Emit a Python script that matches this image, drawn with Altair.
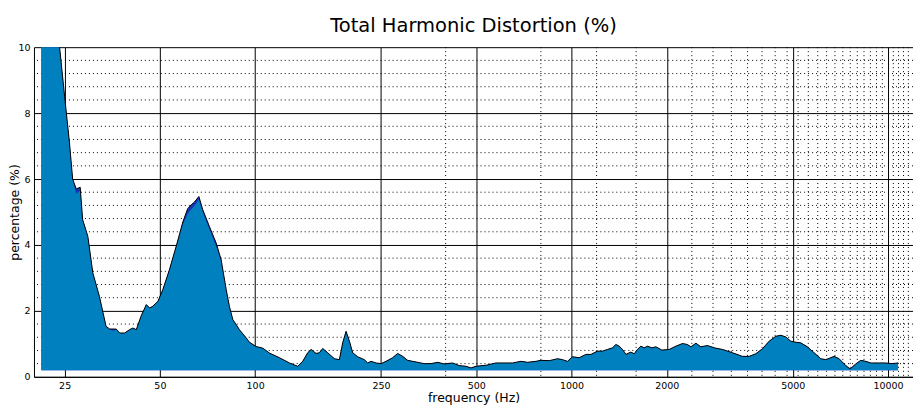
import altair as alt
import pandas as pd

# frequency (Hz) of each sample
freq = [21.1, 22.4, 24.1, 25.0, 25.9, 26.5, 27.2, 28.0, 28.5, 29.6,
        30.7, 32.2, 33.8, 34.7, 35.9, 36.4, 37.3, 38.7, 40.1, 41.1,
        42.1, 43.6, 45.3, 46.4, 47.5, 49.3, 51.1, 53.6, 56.3, 59.1,
        61.2, 62.8, 64.3, 66.4, 68.3, 71.7, 75.3, 78.1, 81.0, 82.9,
        85.0, 89.2, 93.7, 95.9, 100.7, 105.7, 111.0, 119.3, 128.4, 136.3,
        141.4, 146.6, 150.3, 155.8, 159.6, 163.5, 169.6, 178.0, 184.6, 189.1,
        193.8, 198.6, 203.4, 210.9, 221.4, 226.8, 232.5, 241.1, 250.0, 259.3,
        272.0, 282.1, 292.6, 303.4, 322.5, 342.5, 359.6, 377.4, 396.2, 420.8,
        441.8, 464.0, 481.2, 499.0, 536.5, 577.0, 620.6, 651.3, 692.0, 726.0,
        771.7, 800.0, 850.0, 903.0, 937.0, 971.0, 1007, 1057, 1110, 1152,
        1208, 1253, 1299, 1347, 1381, 1415, 1449, 1486, 1540, 1578,
        1616, 1656, 1697, 1738, 1794, 1848, 1930, 2035, 2137, 2242,
        2325, 2384, 2472, 2563, 2689, 2823, 3000, 3225, 3468, 3642,
        3823, 4011, 4211, 4421, 4586, 4757, 4932, 5114, 5303, 5565,
        5843, 6134, 6362, 6758, 7008, 7357, 7591, 7912, 8206, 8510,
        8826, 9374, 9842, 10325, 10762]

# THD (%) of the front (light blue) channel
thd_front = [14.0, 12.0, 10.0, 8.5, 7.1, 6.0, 5.55, 5.65, 4.77, 4.26,
             3.15, 2.44, 1.53, 1.43, 1.40, 1.45, 1.33, 1.33, 1.43, 1.48,
             1.43, 1.84, 2.19, 2.09, 2.14, 2.29, 2.65, 3.25, 3.96, 4.62,
             4.95, 5.08, 5.18, 5.38, 5.00, 4.48, 3.95, 3.50, 2.65, 2.14,
             1.74, 1.43, 1.18, 1.05, 0.92, 0.87, 0.72, 0.58, 0.42, 0.32,
             0.47, 0.73, 0.83, 0.71, 0.73, 0.86, 0.73, 0.55, 0.52, 1.03,
             1.38, 1.08, 0.73, 0.61, 0.52, 0.42, 0.47, 0.42, 0.40, 0.47,
             0.58, 0.71, 0.62, 0.50, 0.45, 0.40, 0.40, 0.44, 0.39, 0.42,
             0.34, 0.32, 0.27, 0.32, 0.35, 0.42, 0.42, 0.42, 0.47, 0.44,
             0.47, 0.50, 0.49, 0.55, 0.52, 0.47, 0.61, 0.58, 0.68, 0.68,
             0.78, 0.78, 0.83, 0.88, 0.98, 0.93, 0.83, 0.68, 0.75, 0.70,
             0.83, 0.93, 0.88, 0.93, 0.88, 0.91, 0.81, 0.83, 0.93, 1.01,
             0.98, 0.91, 1.02, 0.91, 0.95, 0.88, 0.83, 0.73, 0.62, 0.62,
             0.70, 0.85, 1.08, 1.23, 1.26, 1.21, 1.08, 1.05, 1.03, 0.91,
             0.73, 0.55, 0.52, 0.62, 0.55, 0.34, 0.24, 0.39, 0.50, 0.47,
             0.42, 0.42, 0.42, 0.40, 0.42]

# THD (%) of the back (dark blue) channel
thd_back = [14.0, 12.0, 10.0, 8.5, 7.1, 6.0, 5.70, 5.75, 4.77, 4.26,
            3.15, 2.44, 1.53, 1.45, 1.45, 1.45, 1.33, 1.33, 1.43, 1.48,
            1.43, 1.84, 2.19, 2.09, 2.14, 2.29, 2.65, 3.25, 3.96, 4.70,
            5.10, 5.22, 5.30, 5.47, 5.07, 4.56, 4.06, 3.55, 2.65, 2.14,
            1.74, 1.43, 1.18, 1.05, 0.92, 0.87, 0.72, 0.58, 0.42, 0.32,
            0.47, 0.73, 0.83, 0.71, 0.73, 0.86, 0.73, 0.55, 0.52, 1.03,
            1.38, 1.08, 0.73, 0.61, 0.52, 0.42, 0.47, 0.42, 0.40, 0.47,
            0.58, 0.71, 0.62, 0.50, 0.45, 0.40, 0.40, 0.44, 0.39, 0.42,
            0.34, 0.32, 0.27, 0.32, 0.35, 0.42, 0.42, 0.42, 0.47, 0.44,
            0.47, 0.50, 0.49, 0.55, 0.52, 0.47, 0.61, 0.58, 0.68, 0.68,
            0.78, 0.78, 0.83, 0.88, 0.98, 0.93, 0.83, 0.68, 0.75, 0.70,
            0.83, 0.93, 0.88, 0.93, 0.88, 0.91, 0.81, 0.83, 0.93, 1.01,
            0.98, 0.91, 1.02, 0.91, 0.95, 0.88, 0.83, 0.73, 0.62, 0.62,
            0.70, 0.85, 1.08, 1.23, 1.26, 1.21, 1.08, 1.05, 1.03, 0.91,
            0.73, 0.55, 0.52, 0.62, 0.55, 0.34, 0.24, 0.39, 0.50, 0.47,
            0.42, 0.42, 0.42, 0.40, 0.42]

x_major = [25, 50, 100, 250, 500, 1000, 2000, 5000, 10000]
y_major = [0, 2, 4, 6, 8, 10]
x_minor = [400, 800, 1200, 1600, 2400, 2800, 3200, 3600, 4000, 4400, 4800,
           5200, 5600, 6000, 6400, 6800, 7200, 7600, 8000, 8400, 8800, 9200,
           9600, 10400, 10800, 11200, 11600]
y_minor = [0.4, 0.8, 1.2, 1.6, 2.4, 2.8, 3.2, 3.6, 4.4, 4.8, 5.2, 5.6,
           6.4, 6.8, 7.2, 7.6, 8.4, 8.8, 9.2, 9.6]

df = pd.DataFrame({"freq": freq, "front": thd_front, "back": thd_back})
df_xminor = pd.DataFrame({"freq": x_minor})
df_yminor = pd.DataFrame({"value": y_minor})

FONT = "DejaVu Sans"
x_scale = alt.Scale(type="log", domain=[20, 12000], nice=False)
y_scale = alt.Scale(domain=[0, 10], nice=False, zero=False)

x_axis = alt.Axis(values=x_major, format="d", title="frequency (Hz)",
                  grid=True, ticks=False, labelPadding=4,
                  titleY=25, titleBaseline="alphabetic")
y_axis = alt.Axis(values=y_major, format="d", title="percentage (%)",
                  grid=True, ticks=False, labelPadding=4,
                  titleX=-19, titleY=165, titleAngle=270,
                  titleBaseline="middle", titleAlign="center")

X = lambda f: alt.X(f"{f}:Q", scale=x_scale, axis=x_axis)
Y = lambda f: alt.Y(f"{f}:Q", scale=y_scale, axis=y_axis)

vminor = alt.Chart(df_xminor).mark_rule(
    color="black", strokeWidth=1, strokeDash=[1, 3]
).encode(x=X("freq"))

hminor = alt.Chart(df_yminor).mark_rule(
    color="black", strokeWidth=1, strokeDash=[1, 3]
).encode(y=Y("value"))

back_area = alt.Chart(df).mark_area(color="#1733b4", clip=True, opacity=1).encode(
    x=X("freq"), y=Y("back"), y2=alt.datum(0.2)
)
front_area = alt.Chart(df).mark_area(color="#0080bf", clip=True, opacity=1).encode(
    x=X("freq"), y=Y("front"), y2=alt.datum(0.2)
)
outline = alt.Chart(df).mark_line(color="black", strokeWidth=1, clip=True).encode(
    x=X("freq"), y=Y("back")
)

chart = alt.layer(vminor, hminor, back_area, front_area, outline).properties(
    width=880,
    height=330,
    autosize=alt.AutoSizeParams(type="none"),
    padding={"left": 26, "top": 39, "right": 0, "bottom": 28},
    title=alt.TitleParams(
        "Total Harmonic Distortion (%)",
        font=FONT, fontSize=19.5, fontWeight="normal", color="black",
        anchor="middle", frame="group", baseline="alphabetic", offset=10, dy=19,
    ),
).configure_view(
    stroke="transparent"
).configure_axis(
    domainColor="black", domainWidth=1,
    gridColor="black", gridOpacity=1, gridWidth=1,
    labelFont=FONT, labelFontSize=9.5, labelColor="black",
    titleFont=FONT, titleFontSize=12.5, titleFontWeight="normal", titleColor="black",
)

chart.save("out.html", embed_options={"renderer": "svg", "actions": False})
